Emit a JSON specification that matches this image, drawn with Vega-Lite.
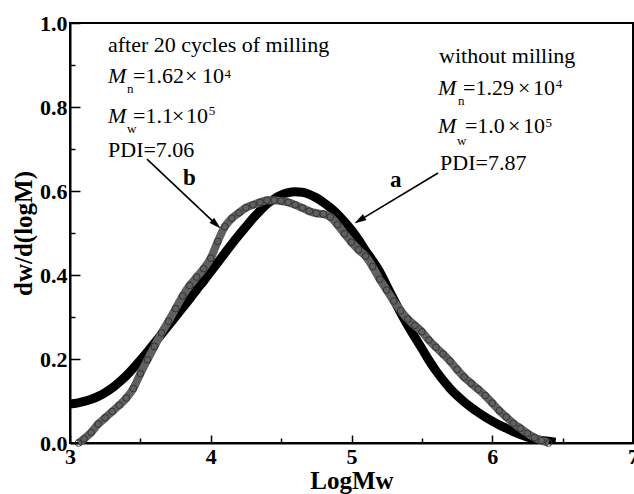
{
  "$schema": "https://vega.github.io/schema/vega-lite/v6.json",
  "width": 563,
  "height": 420,
  "autosize": {"type": "none"},
  "padding": {"left": 70, "top": 23, "right": 1, "bottom": 51},
  "background": "white",
  "config": {
    "view": {"stroke": "black", "strokeWidth": 2},
    "axis": {
      "grid": false,
      "domainColor": "black",
      "domainWidth": 2,
      "tickColor": "black",
      "tickWidth": 1.5,
      "labelFont": "Liberation Serif",
      "labelFontWeight": "bold",
      "labelFontSize": 22,
      "labelColor": "black",
      "titleFont": "Liberation Serif",
      "titleFontWeight": "bold",
      "titleFontSize": 25,
      "titleColor": "black"
    }
  },
  "datasets": {
    "a": [
      {"LogMw": 3.00, "dw": 0.093}, {"LogMw": 3.05, "dw": 0.095}, {"LogMw": 3.10, "dw": 0.099}, {"LogMw": 3.15, "dw": 0.104},
      {"LogMw": 3.20, "dw": 0.111}, {"LogMw": 3.25, "dw": 0.120}, {"LogMw": 3.30, "dw": 0.131}, {"LogMw": 3.35, "dw": 0.145},
      {"LogMw": 3.40, "dw": 0.160}, {"LogMw": 3.45, "dw": 0.178}, {"LogMw": 3.50, "dw": 0.197}, {"LogMw": 3.55, "dw": 0.217},
      {"LogMw": 3.60, "dw": 0.238}, {"LogMw": 3.65, "dw": 0.259}, {"LogMw": 3.70, "dw": 0.280}, {"LogMw": 3.75, "dw": 0.301},
      {"LogMw": 3.80, "dw": 0.322}, {"LogMw": 3.85, "dw": 0.343}, {"LogMw": 3.90, "dw": 0.365}, {"LogMw": 3.95, "dw": 0.386},
      {"LogMw": 4.00, "dw": 0.408}, {"LogMw": 4.05, "dw": 0.430}, {"LogMw": 4.10, "dw": 0.452}, {"LogMw": 4.15, "dw": 0.474},
      {"LogMw": 4.20, "dw": 0.495}, {"LogMw": 4.25, "dw": 0.515}, {"LogMw": 4.30, "dw": 0.535}, {"LogMw": 4.35, "dw": 0.553},
      {"LogMw": 4.40, "dw": 0.569}, {"LogMw": 4.45, "dw": 0.581}, {"LogMw": 4.50, "dw": 0.590}, {"LogMw": 4.55, "dw": 0.596},
      {"LogMw": 4.60, "dw": 0.598}, {"LogMw": 4.65, "dw": 0.597}, {"LogMw": 4.70, "dw": 0.592}, {"LogMw": 4.75, "dw": 0.584},
      {"LogMw": 4.80, "dw": 0.573}, {"LogMw": 4.85, "dw": 0.560}, {"LogMw": 4.90, "dw": 0.545}, {"LogMw": 4.95, "dw": 0.527},
      {"LogMw": 5.00, "dw": 0.507}, {"LogMw": 5.05, "dw": 0.484}, {"LogMw": 5.10, "dw": 0.458}, {"LogMw": 5.15, "dw": 0.434},
      {"LogMw": 5.20, "dw": 0.408}, {"LogMw": 5.25, "dw": 0.375}, {"LogMw": 5.30, "dw": 0.342}, {"LogMw": 5.35, "dw": 0.310},
      {"LogMw": 5.40, "dw": 0.280}, {"LogMw": 5.45, "dw": 0.252}, {"LogMw": 5.50, "dw": 0.225}, {"LogMw": 5.55, "dw": 0.197},
      {"LogMw": 5.60, "dw": 0.172}, {"LogMw": 5.65, "dw": 0.150}, {"LogMw": 5.70, "dw": 0.130}, {"LogMw": 5.75, "dw": 0.113},
      {"LogMw": 5.80, "dw": 0.098}, {"LogMw": 5.85, "dw": 0.085}, {"LogMw": 5.90, "dw": 0.073}, {"LogMw": 5.95, "dw": 0.062},
      {"LogMw": 6.00, "dw": 0.052}, {"LogMw": 6.05, "dw": 0.043}, {"LogMw": 6.10, "dw": 0.035}, {"LogMw": 6.15, "dw": 0.027},
      {"LogMw": 6.20, "dw": 0.020}, {"LogMw": 6.25, "dw": 0.014}, {"LogMw": 6.30, "dw": 0.010}, {"LogMw": 6.35, "dw": 0.006},
      {"LogMw": 6.40, "dw": 0.004}, {"LogMw": 6.45, "dw": 0.002}
    ],
    "b": [
      {"LogMw": 3.06, "dw": 0.000}, {"LogMw": 3.10, "dw": 0.010}, {"LogMw": 3.15, "dw": 0.025}, {"LogMw": 3.20, "dw": 0.045},
      {"LogMw": 3.25, "dw": 0.060}, {"LogMw": 3.30, "dw": 0.075}, {"LogMw": 3.35, "dw": 0.090}, {"LogMw": 3.40, "dw": 0.107},
      {"LogMw": 3.45, "dw": 0.130}, {"LogMw": 3.50, "dw": 0.165}, {"LogMw": 3.55, "dw": 0.198}, {"LogMw": 3.60, "dw": 0.230},
      {"LogMw": 3.65, "dw": 0.262}, {"LogMw": 3.70, "dw": 0.290}, {"LogMw": 3.75, "dw": 0.320}, {"LogMw": 3.80, "dw": 0.350},
      {"LogMw": 3.85, "dw": 0.375}, {"LogMw": 3.90, "dw": 0.395}, {"LogMw": 3.95, "dw": 0.415}, {"LogMw": 4.00, "dw": 0.440},
      {"LogMw": 4.05, "dw": 0.480}, {"LogMw": 4.10, "dw": 0.515}, {"LogMw": 4.15, "dw": 0.535}, {"LogMw": 4.20, "dw": 0.548},
      {"LogMw": 4.25, "dw": 0.560}, {"LogMw": 4.30, "dw": 0.567}, {"LogMw": 4.35, "dw": 0.573}, {"LogMw": 4.40, "dw": 0.578},
      {"LogMw": 4.45, "dw": 0.578}, {"LogMw": 4.50, "dw": 0.576}, {"LogMw": 4.55, "dw": 0.573}, {"LogMw": 4.60, "dw": 0.567},
      {"LogMw": 4.65, "dw": 0.560}, {"LogMw": 4.70, "dw": 0.552}, {"LogMw": 4.75, "dw": 0.547}, {"LogMw": 4.80, "dw": 0.545},
      {"LogMw": 4.85, "dw": 0.538}, {"LogMw": 4.90, "dw": 0.520}, {"LogMw": 4.95, "dw": 0.498}, {"LogMw": 5.00, "dw": 0.478},
      {"LogMw": 5.05, "dw": 0.460}, {"LogMw": 5.10, "dw": 0.445}, {"LogMw": 5.15, "dw": 0.420}, {"LogMw": 5.20, "dw": 0.390},
      {"LogMw": 5.25, "dw": 0.364}, {"LogMw": 5.30, "dw": 0.338}, {"LogMw": 5.35, "dw": 0.315}, {"LogMw": 5.40, "dw": 0.295},
      {"LogMw": 5.45, "dw": 0.280}, {"LogMw": 5.50, "dw": 0.265}, {"LogMw": 5.55, "dw": 0.245}, {"LogMw": 5.60, "dw": 0.228},
      {"LogMw": 5.65, "dw": 0.212}, {"LogMw": 5.70, "dw": 0.195}, {"LogMw": 5.75, "dw": 0.175}, {"LogMw": 5.80, "dw": 0.157},
      {"LogMw": 5.85, "dw": 0.142}, {"LogMw": 5.90, "dw": 0.128}, {"LogMw": 5.95, "dw": 0.113}, {"LogMw": 6.00, "dw": 0.095},
      {"LogMw": 6.05, "dw": 0.077}, {"LogMw": 6.10, "dw": 0.062}, {"LogMw": 6.15, "dw": 0.047}, {"LogMw": 6.20, "dw": 0.035},
      {"LogMw": 6.25, "dw": 0.023}, {"LogMw": 6.30, "dw": 0.013}, {"LogMw": 6.35, "dw": 0.006}, {"LogMw": 6.40, "dw": 0.000}
    ],
    "labels": [
      {"x": 3.270, "y": 0.931, "t": "after 20 cycles of milling", "k": "n"},
      {"x": 3.270, "y": 0.857, "t": "M", "k": "i"},
      {"x": 3.405, "y": 0.833, "t": "n", "k": "s"},
      {"x": 3.448, "y": 0.857, "t": "=1.62", "k": "n"},
      {"x": 3.817, "y": 0.857, "t": "×", "k": "n"},
      {"x": 3.938, "y": 0.857, "t": "10", "k": "n"},
      {"x": 4.098, "y": 0.869, "t": "4", "k": "s"},
      {"x": 3.270, "y": 0.762, "t": "M", "k": "i"},
      {"x": 3.405, "y": 0.738, "t": "w", "k": "s"},
      {"x": 3.448, "y": 0.762, "t": "=1.1", "k": "n"},
      {"x": 3.725, "y": 0.762, "t": "×", "k": "n"},
      {"x": 3.824, "y": 0.762, "t": "10", "k": "n"},
      {"x": 3.985, "y": 0.781, "t": "5", "k": "s"},
      {"x": 3.270, "y": 0.681, "t": "PDI=7.06", "k": "n"},
      {"x": 5.622, "y": 0.905, "t": "without milling", "k": "n"},
      {"x": 5.615, "y": 0.829, "t": "M", "k": "i"},
      {"x": 5.757, "y": 0.805, "t": "n", "k": "s"},
      {"x": 5.792, "y": 0.829, "t": "=1.29", "k": "n"},
      {"x": 6.183, "y": 0.829, "t": "×", "k": "n"},
      {"x": 6.290, "y": 0.829, "t": "10", "k": "n"},
      {"x": 6.452, "y": 0.845, "t": "4", "k": "s"},
      {"x": 5.615, "y": 0.738, "t": "M", "k": "i"},
      {"x": 5.750, "y": 0.710, "t": "w", "k": "s"},
      {"x": 5.806, "y": 0.738, "t": "=1.0", "k": "n"},
      {"x": 6.112, "y": 0.738, "t": "×", "k": "n"},
      {"x": 6.218, "y": 0.738, "t": "10", "k": "n"},
      {"x": 6.378, "y": 0.752, "t": "5", "k": "s"},
      {"x": 5.629, "y": 0.650, "t": "PDI=7.87", "k": "n"},
      {"x": 3.803, "y": 0.614, "t": "b", "k": "b"},
      {"x": 5.274, "y": 0.610, "t": "a", "k": "b"}
    ],
    "arrows": [
      {"id": "b", "x": 3.547, "y": 0.676, "x2": 4.040, "y2": 0.520, "hx": 4.066, "hy": 0.512},
      {"id": "a", "x": 5.615, "y": 0.643, "x2": 5.050, "y2": 0.529, "hx": 5.025, "hy": 0.524}
    ]
  },
  "resolve": {"axis": {"x": "independent", "y": "independent"}},
  "layer": [
    {
      "data": {"name": "a"},
      "mark": {"type": "line", "color": "black", "strokeWidth": 9, "interpolate": "monotone", "clip": true},
      "encoding": {
        "x": {"field": "LogMw", "type": "quantitative",
              "scale": {"domain": [3, 7], "nice": false, "zero": false},
              "axis": {"orient": "bottom", "values": [3, 4, 5, 6, 7], "format": "d", "tickSize": -8, "labelPadding": 11,
                       "labelFlush": false, "labelOverlap": false, "labelBound": false, "title": "LogMw", "titlePadding": 1}},
        "y": {"field": "dw", "type": "quantitative",
              "scale": {"domain": [0, 1], "nice": false, "zero": false},
              "axis": {"orient": "left", "values": [0, 0.2, 0.4, 0.6, 0.8, 1.0], "format": ".1f", "tickSize": -10, "labelPadding": 13,
                       "labelFlush": false, "labelOverlap": false, "title": "dw/d(logM)", "titlePadding": 3}}
      }
    },
    {
      "data": {"name": "b"},
      "mark": {"type": "line", "color": "#606060", "strokeWidth": 8, "interpolate": "monotone"},
      "encoding": {
        "x": {"field": "LogMw", "type": "quantitative",
              "axis": {"orient": "bottom", "values": [3.5, 4.5, 5.5, 6.5], "tickSize": -5, "labels": false, "domain": false, "title": null}},
        "y": {"field": "dw", "type": "quantitative",
              "axis": {"orient": "left", "values": [0.1, 0.3, 0.5, 0.7, 0.9], "tickSize": -5, "labels": false, "domain": false, "title": null}}
      }
    },
    {
      "data": {"name": "b"},
      "mark": {"type": "point", "shape": "circle", "filled": false, "stroke": "#2e2e2e", "strokeWidth": 1, "size": 45, "opacity": 0.9},
      "encoding": {
        "x": {"field": "LogMw", "type": "quantitative", "axis": null},
        "y": {"field": "dw", "type": "quantitative", "axis": null}
      }
    },
    {
      "data": {"name": "arrows"},
      "mark": {"type": "rule", "color": "black", "strokeWidth": 1.6},
      "encoding": {
        "x": {"field": "x", "type": "quantitative", "axis": null},
        "y": {"field": "y", "type": "quantitative", "axis": null},
        "x2": {"field": "x2"},
        "y2": {"field": "y2"}
      }
    },
    {
      "data": {"name": "arrows"},
      "transform": [{"filter": "datum.id === 'b'"}],
      "mark": {"type": "point", "shape": "M0,0L0.45,1.6L-0.45,1.6Z", "filled": true, "fill": "black", "stroke": "black", "strokeWidth": 0.5, "size": 190, "opacity": 1, "angle": 133},
      "encoding": {
        "x": {"field": "hx", "type": "quantitative", "axis": null},
        "y": {"field": "hy", "type": "quantitative", "axis": null}
      }
    },
    {
      "data": {"name": "arrows"},
      "transform": [{"filter": "datum.id === 'a'"}],
      "mark": {"type": "point", "shape": "M0,0L0.45,1.6L-0.45,1.6Z", "filled": true, "fill": "black", "stroke": "black", "strokeWidth": 0.5, "size": 190, "opacity": 1, "angle": 239},
      "encoding": {
        "x": {"field": "hx", "type": "quantitative", "axis": null},
        "y": {"field": "hy", "type": "quantitative", "axis": null}
      }
    },
    {
      "data": {"name": "labels"},
      "transform": [{"filter": "datum.k === 'n'"}],
      "mark": {"type": "text", "font": "Liberation Serif", "fontSize": 22, "color": "black", "align": "left", "baseline": "alphabetic"},
      "encoding": {
        "x": {"field": "x", "type": "quantitative", "axis": null},
        "y": {"field": "y", "type": "quantitative", "axis": null},
        "text": {"field": "t"}
      }
    },
    {
      "data": {"name": "labels"},
      "transform": [{"filter": "datum.k === 'i'"}],
      "mark": {"type": "text", "font": "Liberation Serif", "fontSize": 22, "fontStyle": "italic", "color": "black", "align": "left", "baseline": "alphabetic"},
      "encoding": {
        "x": {"field": "x", "type": "quantitative", "axis": null},
        "y": {"field": "y", "type": "quantitative", "axis": null},
        "text": {"field": "t"}
      }
    },
    {
      "data": {"name": "labels"},
      "transform": [{"filter": "datum.k === 's'"}],
      "mark": {"type": "text", "font": "Liberation Serif", "fontSize": 13, "color": "black", "align": "left", "baseline": "alphabetic"},
      "encoding": {
        "x": {"field": "x", "type": "quantitative", "axis": null},
        "y": {"field": "y", "type": "quantitative", "axis": null},
        "text": {"field": "t"}
      }
    },
    {
      "data": {"name": "labels"},
      "transform": [{"filter": "datum.k === 'b'"}],
      "mark": {"type": "text", "font": "Liberation Serif", "fontWeight": "bold", "fontSize": 23, "color": "black", "align": "left", "baseline": "alphabetic"},
      "encoding": {
        "x": {"field": "x", "type": "quantitative", "axis": null},
        "y": {"field": "y", "type": "quantitative", "axis": null},
        "text": {"field": "t"}
      }
    }
  ]
}
